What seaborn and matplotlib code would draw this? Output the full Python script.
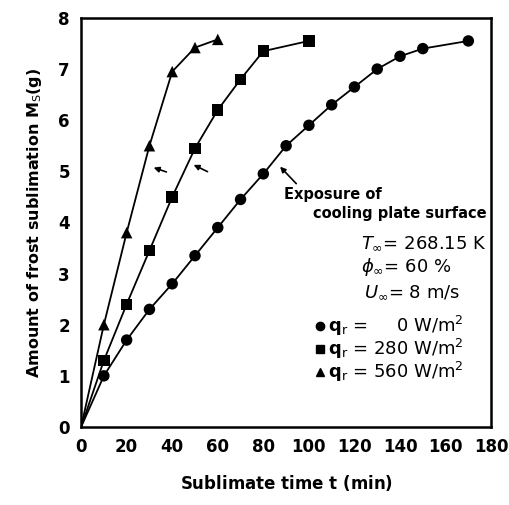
import numpy as np
import pandas as pd
import matplotlib
matplotlib.use("Agg")
import matplotlib.pyplot as plt
import seaborn as sns

# data
t_q0 = [10, 20, 30, 40, 50, 60, 70, 80, 90, 100, 110, 120, 130, 140, 150, 170]
m_q0 = [1.0, 1.7, 2.3, 2.8, 3.35, 3.9, 4.45, 4.95, 5.5, 5.9, 6.3, 6.65, 7.0, 7.25, 7.4, 7.55]
t_q280 = [10, 20, 30, 40, 50, 60, 70, 80, 100]
m_q280 = [1.3, 2.4, 3.45, 4.5, 5.45, 6.2, 6.8, 7.35, 7.55]
t_q560 = [10, 20, 30, 40, 50, 60]
m_q560 = [2.0, 3.8, 5.5, 6.95, 7.42, 7.58]
series = ["0", "280", "560"]
x_ticks = [0, 20, 40, 60, 80, 100, 120, 140, 160, 180]
y_ticks = [0, 1, 2, 3, 4, 5, 6, 7, 8]

pts = pd.concat([
    pd.DataFrame({"t": t_q0, "m": m_q0, "q": "0"}),
    pd.DataFrame({"t": t_q280, "m": m_q280, "q": "280"}),
    pd.DataFrame({"t": t_q560, "m": m_q560, "q": "560"}),
], ignore_index=True)
origin = pd.DataFrame({"t": [0, 0, 0], "m": [0, 0, 0], "q": series})
lines = pd.concat([origin, pts], ignore_index=True).sort_values(["q", "t"])

sns.set_theme(style="white")
plt.rcParams["font.family"] = ["DejaVu Sans"]
for k in ["text.color", "axes.labelcolor", "xtick.color", "ytick.color"]:
    plt.rcParams[k] = "black"

fig = plt.figure(figsize=(5.10, 5.05), dpi=100)
ax = fig.add_axes([0.159, 0.1545, 0.804, 0.81])

sns.lineplot(data=lines, x="t", y="m", units="q", estimator=None, sort=False,
             color="black", lw=1.3, ax=ax, zorder=2)

markers = {"0": "o", "280": "s", "560": "^"}
sns.scatterplot(data=pts, x="t", y="m", style="q", markers=markers, color="black",
                s=68, edgecolor="black", linewidth=0, legend=False, ax=ax, zorder=3)

ax.set_xlim(0, 180)
ax.set_ylim(0, 8)
ax.set_xticks(x_ticks)
ax.set_yticks(y_ticks)
ax.tick_params(direction="in", length=6, width=1.5, labelsize=12, pad=8)
for lab in ax.get_xticklabels() + ax.get_yticklabels():
    lab.set_fontweight("bold")
for s in ax.spines.values():
    s.set_linewidth(1.8)
    s.set_color("black")

ax.set_xlabel("Sublimate time $\\mathbf{t}$ (min)", fontsize=12, fontweight="bold", labelpad=12)
ax.set_ylabel("Amount of frost sublimation $\\mathbf{M}_\\mathrm{S}$(g)", fontsize=11.5,
              fontweight="bold", labelpad=10)

# arrows
for (xt, yt, xh, yh) in [(38.6, 4.97, 30.7, 5.09), (56.6, 4.97, 48.3, 5.15), (95.3, 4.72, 86.5, 5.13)]:
    ax.annotate("", xy=(xh, yh), xytext=(xt, yt),
                arrowprops=dict(arrowstyle="-|>", color="black", lw=1.2, mutation_scale=8))

ax.text(89, 4.55, "Exposure of", fontsize=10.5, fontweight="bold", va="center")
ax.text(178, 4.18, "cooling plate surface", fontsize=10.5, fontweight="bold", va="center", ha="right")
ax.text(123, 3.6, "$T_{\\infty}$= 268.15 K", fontsize=13, va="center")
ax.text(123, 3.12, "$\\phi_{\\infty}$= 60 %", fontsize=13, va="center")
ax.text(124, 2.63, "$U_{\\infty}$= 8 m/s", fontsize=13, va="center")

leg_y = [1.98, 1.52, 1.08]
leg_txt = ["$\\mathbf{q}_\\mathrm{r}$ =     0 W/m$^2$",
           "$\\mathbf{q}_\\mathrm{r}$ = 280 W/m$^2$",
           "$\\mathbf{q}_\\mathrm{r}$ = 560 W/m$^2$"]
leg_mk = ["o", "s", "^"]
for yy, tx, mk in zip(leg_y, leg_txt, leg_mk):
    ax.plot([105], [yy], marker=mk, color="black", ms=6, ls="none", clip_on=False)
    ax.text(108.5, yy, tx, fontsize=13, va="center")

fig.savefig("out.png", dpi=100)
